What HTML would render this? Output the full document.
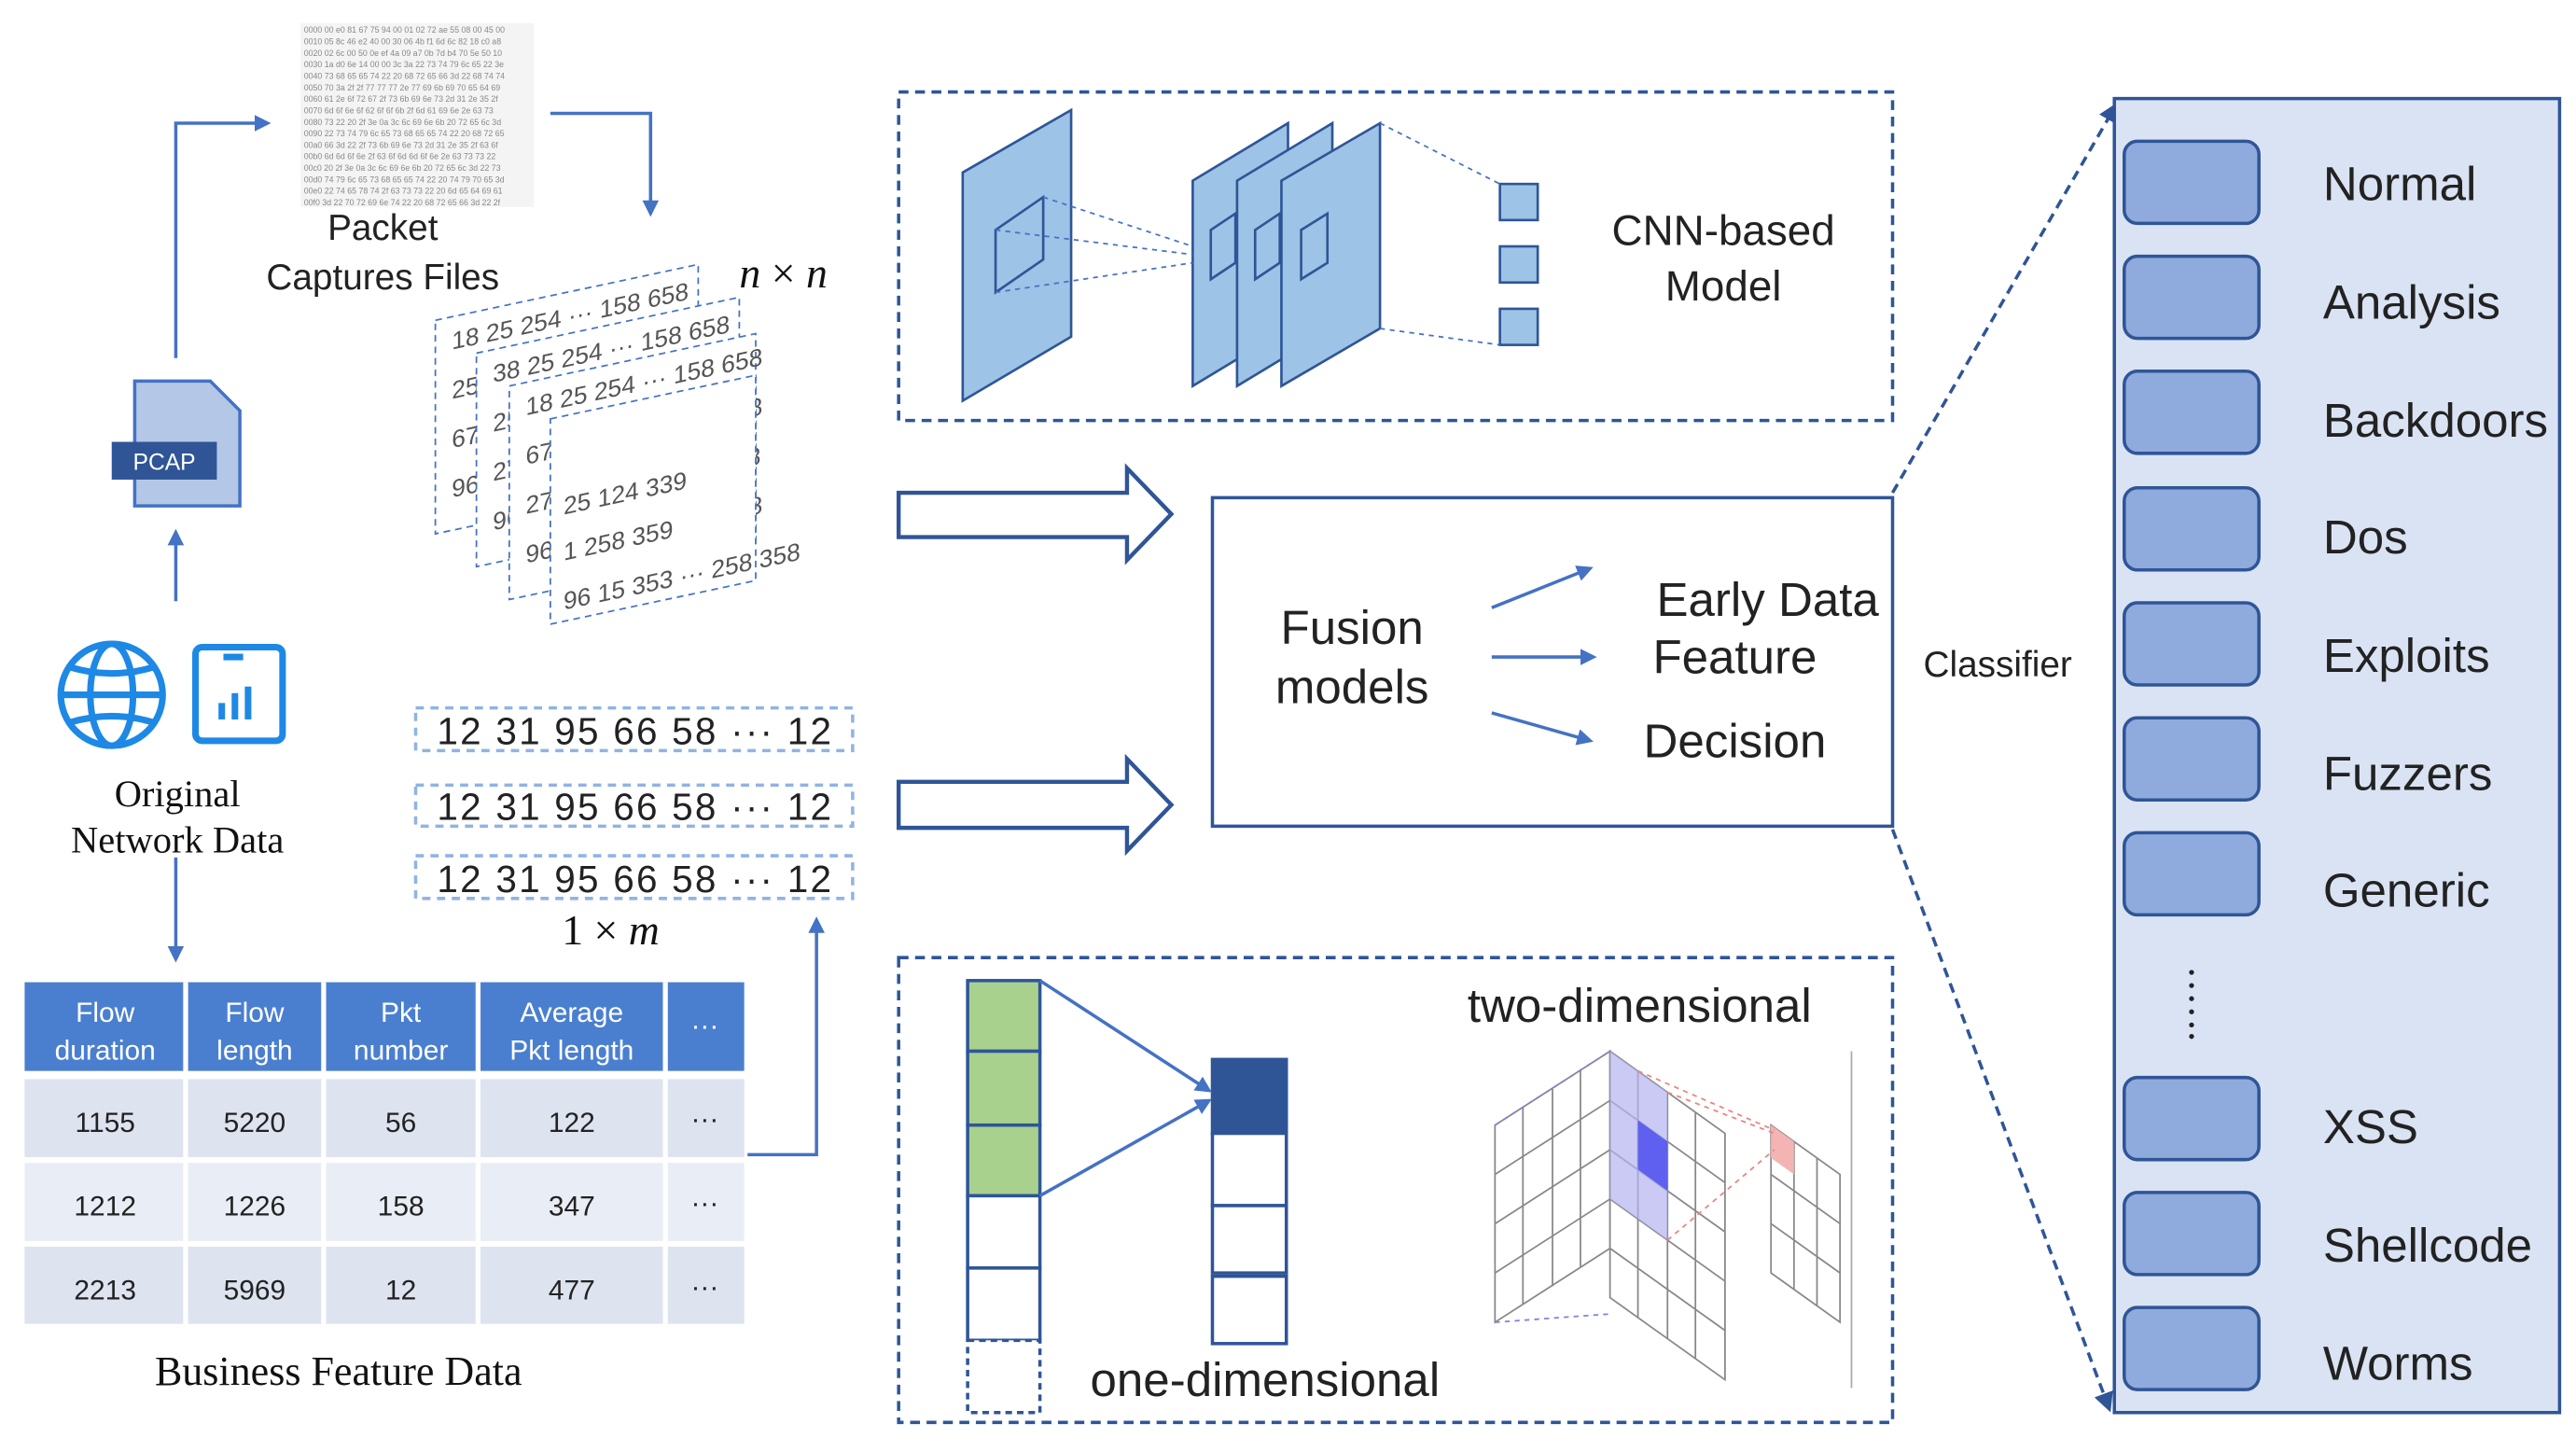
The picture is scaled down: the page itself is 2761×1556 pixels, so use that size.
<!DOCTYPE html>
<html><head><meta charset="utf-8"><style>
html,body{margin:0;padding:0;background:#fff;}
svg{display:block;}
text{font-family:"Liberation Sans",sans-serif;}
.serif{font-family:"Liberation Serif",serif;}
</style></head><body>
<svg width="2761" height="1556" viewBox="0 0 1568 884" preserveAspectRatio="none" xmlns="http://www.w3.org/2000/svg">
<defs>
<marker id="ah" markerWidth="10" markerHeight="10" refX="8" refY="5" orient="auto" markerUnits="userSpaceOnUse"><path d="M0,0 L10,5 L0,10 z" fill="#4472c4"/></marker>
<marker id="ah2" markerWidth="12" markerHeight="12" refX="10" refY="6" orient="auto" markerUnits="userSpaceOnUse"><path d="M0,0 L12,6 L0,12 z" fill="#2f5597"/></marker>
</defs>

<!-- hex dump -->
<g fill="#888" font-size="5" font-family="Liberation Mono,monospace">
<rect x="183" y="14" width="142" height="112" fill="#f4f4f4"/>
<text x="185" y="20">0000  00 e0 81 67 75 94 00 01 02 72 ae 55 08 00 45 00</text>
<text x="185" y="27">0010  05 8c 46 e2 40 00 30 06 4b f1 6d 6c 82 18 c0 a8</text>
<text x="185" y="34">0020  02 6c 00 50 0e ef 4a 09 a7 0b 7d b4 70 5e 50 10</text>
<text x="185" y="41">0030  1a d0 6e 14 00 00 3c 3a 22 73 74 79 6c 65 22 3e</text>
<text x="185" y="48">0040  73 68 65 65 74 22 20 68 72 65 66 3d 22 68 74 74</text>
<text x="185" y="55">0050  70 3a 2f 2f 77 77 77 2e 77 69 6b 69 70 65 64 69</text>
<text x="185" y="62">0060  61 2e 6f 72 67 2f 73 6b 69 6e 73 2d 31 2e 35 2f</text>
<text x="185" y="69">0070  6d 6f 6e 6f 62 6f 6f 6b 2f 6d 61 69 6e 2e 63 73</text>
<text x="185" y="76">0080  73 22 20 2f 3e 0a 3c 6c 69 6e 6b 20 72 65 6c 3d</text>
<text x="185" y="83">0090  22 73 74 79 6c 65 73 68 65 65 74 22 20 68 72 65</text>
<text x="185" y="90">00a0  66 3d 22 2f 73 6b 69 6e 73 2d 31 2e 35 2f 63 6f</text>
<text x="185" y="97">00b0  6d 6d 6f 6e 2f 63 6f 6d 6d 6f 6e 2e 63 73 73 22</text>
<text x="185" y="104">00c0  20 2f 3e 0a 3c 6c 69 6e 6b 20 72 65 6c 3d 22 73</text>
<text x="185" y="111">00d0  74 79 6c 65 73 68 65 65 74 22 20 74 79 70 65 3d</text>
<text x="185" y="118">00e0  22 74 65 78 74 2f 63 73 73 22 20 6d 65 64 69 61</text>
<text x="185" y="125">00f0  3d 22 70 72 69 6e 74 22 20 68 72 65 66 3d 22 2f</text>
</g>
<text x="233" y="146" font-size="22" text-anchor="middle" fill="#222">Packet</text>
<text x="233" y="176" font-size="22" text-anchor="middle" fill="#222">Captures Files</text>

<g stroke="#4472c4" stroke-width="2" fill="none">
<polyline points="107,218 107,75 163,75" marker-end="url(#ah)"/>
<polyline points="335,69 396,69 396,130" marker-end="url(#ah)"/>
<line x1="107" y1="366" x2="107" y2="324" marker-end="url(#ah)"/>
<line x1="107" y1="522" x2="107" y2="584" marker-end="url(#ah)"/>
<polyline points="455,703 497,703 497,560" marker-end="url(#ah)"/>
</g>

<!-- PCAP icon -->
<path d="M82,232 L128,232 L146,250 L146,308 L82,308 z" fill="#b4c7e7" stroke="#4472c4" stroke-width="2"/>
<rect x="68" y="269" width="64" height="23" fill="#2f5597"/>
<text x="100" y="286" font-size="14" fill="#fff" text-anchor="middle">PCAP</text>

<!-- globe -->
<g stroke="#1e88e5" stroke-width="4" fill="none">
<circle cx="68" cy="423" r="31"/>
<ellipse cx="68" cy="423" rx="13" ry="31"/>
<line x1="37" y1="423" x2="99" y2="423"/>
<path d="M42,406 Q68,414 94,406"/><path d="M42,440 Q68,432 94,440"/>
<rect x="119" y="394" width="53" height="57" rx="4"/>
</g>
<rect x="136" y="398" width="12" height="4" fill="#1e88e5"/>
<rect x="133" y="428" width="4" height="10" fill="#1e88e5"/>
<rect x="141" y="422" width="4" height="16" fill="#1e88e5"/>
<rect x="149" y="418" width="4" height="20" fill="#1e88e5"/>
<text x="108" y="491" class="serif" font-size="23" text-anchor="middle" fill="#111">Original</text>
<text x="108" y="519" class="serif" font-size="23" text-anchor="middle" fill="#111">Network Data</text>

<!-- table -->
<g>
<rect x="15" y="598" width="438" height="54" fill="#4a7fd0"/>
<rect x="15" y="657" width="438" height="48" fill="#dde3ef"/>
<rect x="15" y="708" width="438" height="48" fill="#e9edf5"/>
<rect x="15" y="759" width="438" height="47" fill="#dde3ef"/>
<g stroke="#fff" stroke-width="3">
<line x1="113" y1="598" x2="113" y2="806"/><line x1="197" y1="598" x2="197" y2="806"/>
<line x1="291" y1="598" x2="291" y2="806"/><line x1="405" y1="598" x2="405" y2="806"/>
<line x1="15" y1="655" x2="453" y2="655"/><line x1="15" y1="706" x2="453" y2="706"/><line x1="15" y1="757" x2="453" y2="757"/>
</g>
<g font-size="17" fill="#fff" text-anchor="middle">
<text x="64" y="622">Flow</text><text x="64" y="645">duration</text>
<text x="155" y="622">Flow</text><text x="155" y="645">length</text>
<text x="244" y="622">Pkt</text><text x="244" y="645">number</text>
<text x="348" y="622">Average</text><text x="348" y="645">Pkt length</text>
<text x="429" y="630">···</text>
</g>
<g font-size="17" fill="#222" text-anchor="middle">
<text x="64" y="689">1155</text><text x="155" y="689">5220</text><text x="244" y="689">56</text><text x="348" y="689">122</text><text x="429" y="687">···</text>
<text x="64" y="740">1212</text><text x="155" y="740">1226</text><text x="244" y="740">158</text><text x="348" y="740">347</text><text x="429" y="738">···</text>
<text x="64" y="791">2213</text><text x="155" y="791">5969</text><text x="244" y="791">12</text><text x="348" y="791">477</text><text x="429" y="789">···</text>
</g>
</g>
<text x="206" y="843" class="serif" font-size="25" text-anchor="middle" fill="#111">Business Feature Data</text>

<!-- 1D vectors -->
<g fill="none" stroke="#8fb4e3" stroke-width="2" stroke-dasharray="5,4">
<rect x="253" y="431" width="266" height="26"/>
<rect x="253" y="478" width="266" height="25"/>
<rect x="253" y="521" width="266" height="26"/>
</g>
<g font-size="23" fill="#222">
<text x="266" y="453" textLength="240" lengthAdjust="spacing">12 31 95 66 58 ··· 12</text>
<text x="266" y="499" textLength="240" lengthAdjust="spacing">12 31 95 66 58 ··· 12</text>
<text x="266" y="543" textLength="240" lengthAdjust="spacing">12 31 95 66 58 ··· 12</text>
</g>
<text x="342" y="575" class="serif" font-size="26" fill="#111">1 × <tspan font-style="italic">m</tspan></text>
<text x="450" y="175" class="serif" font-size="26" fill="#111" font-style="italic">n <tspan font-style="normal">×</tspan> n</text>

<!-- skewed matrices -->
<g font-size="15" fill="#555">
<g transform="translate(265,195) skewY(-12)"><rect width="160" height="130" fill="#fff" stroke="#4472c4" stroke-dasharray="4,3"/><text x="10" y="20">18 25 254 ··· 158 658</text><text x="10" y="50">25 25 25 1 28 658</text><text x="10" y="80">67 25 124 339 618</text><text x="10" y="110">96 15 353 ··· 258</text></g>
<g transform="translate(290,215) skewY(-12)"><rect width="160" height="130" fill="#fff" stroke="#4472c4" stroke-dasharray="4,3"/><text x="10" y="20">38 25 254 ··· 158 658</text><text x="10" y="50">25 124 339 618</text><text x="10" y="80">27 95 124 ··· 159 338</text><text x="10" y="110">96 15 353 ··· 358</text></g>
<g transform="translate(310,235) skewY(-12)"><rect width="150" height="130" fill="#fff" stroke="#4472c4" stroke-dasharray="4,3"/><text x="10" y="20">18 25 254 ··· 158 658</text><text x="10" y="50">67 25 124 ··· 339 618</text><text x="10" y="80">27 95 124 ··· 118 358</text><text x="10" y="110">96 15 353 ··· 359 338</text></g>
<g transform="translate(335,255) skewY(-12)"><rect width="125" height="125" fill="#fff" stroke="#4472c4" stroke-dasharray="4,3"/><text x="8" y="60">25 124 339</text><text x="8" y="88">1 258 359</text><text x="8" y="118">96 15 353 ··· 258 358</text></g>
</g>

<!-- hollow arrows -->
<g fill="#fff" stroke="#2f5597" stroke-width="2.5">
<path d="M547,300 L686,300 L686,285 L713,313 L686,341 L686,327 L547,327 z"/>
<path d="M547,476 L686,476 L686,462 L713,490 L686,518 L686,504 L547,504 z"/>
</g>

<!-- CNN box -->
<rect x="547" y="56" width="605" height="200" fill="none" stroke="#2f5597" stroke-width="2" stroke-dasharray="6,4"/>
<g stroke="#2f5597" stroke-width="1.5" fill="#9dc3e6">
<path d="M586,105 L652,67 L652,205 L586,244 z"/>
<path d="M606,140 L635,120 L635,158 L606,178 z" fill="none"/>
<path d="M726,110 L784,75 L784,200 L726,235 z"/>
<path d="M753,110 L811,75 L811,200 L753,235 z"/>
<path d="M780,110 L840,75 L840,200 L780,235 z"/>
<path d="M737,140 L752,130 L752,160 L737,170 z" fill="none"/>
<path d="M764,140 L779,130 L779,160 L764,170 z" fill="none"/>
<path d="M792,140 L808,130 L808,160 L792,170 z" fill="none"/>
<rect x="913" y="112" width="23" height="22"/><rect x="913" y="150" width="23" height="22"/><rect x="913" y="188" width="23" height="22"/>
</g>
<g stroke="#4472c4" stroke-width="1" stroke-dasharray="3,3">
<line x1="635" y1="120" x2="726" y2="150"/><line x1="606" y1="178" x2="726" y2="160"/><line x1="606" y1="140" x2="726" y2="155"/>
<line x1="840" y1="75" x2="913" y2="112"/><line x1="840" y1="200" x2="913" y2="210"/>
</g>
<text x="1049" y="149" font-size="26" text-anchor="middle" fill="#222">CNN-based</text>
<text x="1049" y="183" font-size="26" text-anchor="middle" fill="#222">Model</text>

<!-- Fusion -->
<rect x="738" y="303" width="414" height="200" fill="#fff" stroke="#2f5597" stroke-width="2"/>
<text x="823" y="392" font-size="29" text-anchor="middle" fill="#222">Fusion</text>
<text x="823" y="428" font-size="29" text-anchor="middle" fill="#222">models</text>
<g stroke="#4472c4" stroke-width="2">
<line x1="908" y1="370" x2="968" y2="346" marker-end="url(#ah)"/>
<line x1="908" y1="400" x2="970" y2="400" marker-end="url(#ah)"/>
<line x1="908" y1="434" x2="968" y2="451" marker-end="url(#ah)"/>
</g>
<text x="1076" y="375" font-size="29" text-anchor="middle" fill="#222">Early Data</text>
<text x="1056" y="410" font-size="29" text-anchor="middle" fill="#222">Feature</text>
<text x="1056" y="461" font-size="29" text-anchor="middle" fill="#222">Decision</text>
<text x="1216" y="412" font-size="22" text-anchor="middle" fill="#222">Classifier</text>
<g stroke="#2f5597" stroke-width="2" stroke-dasharray="6,4">
<line x1="1152" y1="300" x2="1288" y2="64" marker-end="url(#ah2)"/>
<line x1="1152" y1="505" x2="1284" y2="858" marker-end="url(#ah2)"/>
</g>

<!-- Right panel -->
<rect x="1287" y="60" width="271" height="800" fill="#dae3f3" stroke="#2f5597" stroke-width="2"/>
<g fill="#8faadc" stroke="#2f5597" stroke-width="2">
<rect x="1293" y="86" width="82" height="50" rx="8"/><rect x="1293" y="156" width="82" height="50" rx="8"/>
<rect x="1293" y="226" width="82" height="50" rx="8"/><rect x="1293" y="297" width="82" height="50" rx="8"/>
<rect x="1293" y="367" width="82" height="50" rx="8"/><rect x="1293" y="437" width="82" height="50" rx="8"/>
<rect x="1293" y="507" width="82" height="50" rx="8"/><rect x="1293" y="656" width="82" height="50" rx="8"/>
<rect x="1293" y="726" width="82" height="50" rx="8"/><rect x="1293" y="796" width="82" height="50" rx="8"/>
</g>
<g font-size="29" fill="#222">
<text x="1414" y="122">Normal</text><text x="1414" y="194">Analysis</text><text x="1414" y="266">Backdoors</text>
<text x="1414" y="337">Dos</text><text x="1414" y="409">Exploits</text><text x="1414" y="481">Fuzzers</text>
<text x="1414" y="552">Generic</text><text x="1414" y="696">XSS</text><text x="1414" y="768">Shellcode</text>
<text x="1414" y="840">Worms</text>
</g>
<g fill="#222"><circle cx="1334" cy="592" r="1.5"/><circle cx="1334" cy="600" r="1.5"/><circle cx="1334" cy="608" r="1.5"/><circle cx="1334" cy="616" r="1.5"/><circle cx="1334" cy="624" r="1.5"/><circle cx="1334" cy="631" r="1.5"/></g>

<!-- bottom box -->
<rect x="547" y="583" width="605" height="283" fill="none" stroke="#2f5597" stroke-width="2" stroke-dasharray="6,4"/>
<g stroke="#2f5597" stroke-width="2">
<rect x="589" y="597" width="44" height="43" fill="#a9d18e"/><rect x="589" y="640" width="44" height="45" fill="#a9d18e"/><rect x="589" y="685" width="44" height="43" fill="#a9d18e"/>
<rect x="589" y="728" width="44" height="44" fill="#fff"/><rect x="589" y="772" width="44" height="44" fill="#fff"/>
<rect x="589" y="816" width="44" height="44" fill="#fff" stroke-dasharray="4,3"/>
<rect x="738" y="645" width="45" height="45" fill="#2f5597"/><rect x="738" y="690" width="45" height="44" fill="#fff"/>
<rect x="738" y="734" width="45" height="41" fill="#fff"/><rect x="738" y="777" width="45" height="41" fill="#fff"/>
</g>
<g stroke="#4472c4" stroke-width="2">
<line x1="633" y1="597" x2="736" y2="664" marker-end="url(#ah)"/>
<line x1="633" y1="728" x2="736" y2="670" marker-end="url(#ah)"/>
</g>
<text x="770" y="850" font-size="29" text-anchor="middle" fill="#222">one-dimensional</text>
<text x="998" y="622" font-size="29" text-anchor="middle" fill="#222">two-dimensional</text>

<!-- 2D conv illustration -->
<g stroke="#888" stroke-width="1" fill="none">
<path d="M910,685 L980,640 L980,760 L910,805 z"/>
<path d="M927,674 L927,794 M945,663 L945,783 M962,651 L962,771 M910,715 L980,670 M910,745 L980,700 M910,775 L980,730"/>
<path d="M980,640 L1050,690 L1050,840 L980,790 z" fill="#fff"/>
<path d="M997,652 L997,802 M1015,665 L1015,815 M1032,677 L1032,827 M980,670 L1050,720 M980,700 L1050,750 M980,730 L1050,780 M980,760 L1050,810"/>
<path d="M1078,685 L1120,715 L1120,805 L1078,775 z"/>
<path d="M1092,695 L1092,785 M1106,705 L1106,795 M1078,715 L1120,745 M1078,745 L1120,775"/>
<line x1="1127" y1="640" x2="1127" y2="845" stroke="#aaa"/>
</g>
<path d="M980,640 L1015,665 L1015,755 L980,730 z" fill="#b4b4f0" opacity="0.7"/>
<path d="M997,682 L1015,695 L1015,725 L997,712 z" fill="#6060f0"/>
<path d="M1078,685 L1092,695 L1092,715 L1078,705 z" fill="#f4b4b4"/>
<g stroke="#8080e0" stroke-dasharray="3,3" stroke-width="1"><line x1="910" y1="685" x2="980" y2="640"/><line x1="910" y1="805" x2="980" y2="800"/></g>
<g stroke="#f08080" stroke-dasharray="3,3" stroke-width="1"><line x1="1015" y1="665" x2="1080" y2="690"/><line x1="1015" y1="755" x2="1080" y2="700"/><line x1="997" y1="652" x2="1080" y2="688"/></g>
</svg>
</body></html>
